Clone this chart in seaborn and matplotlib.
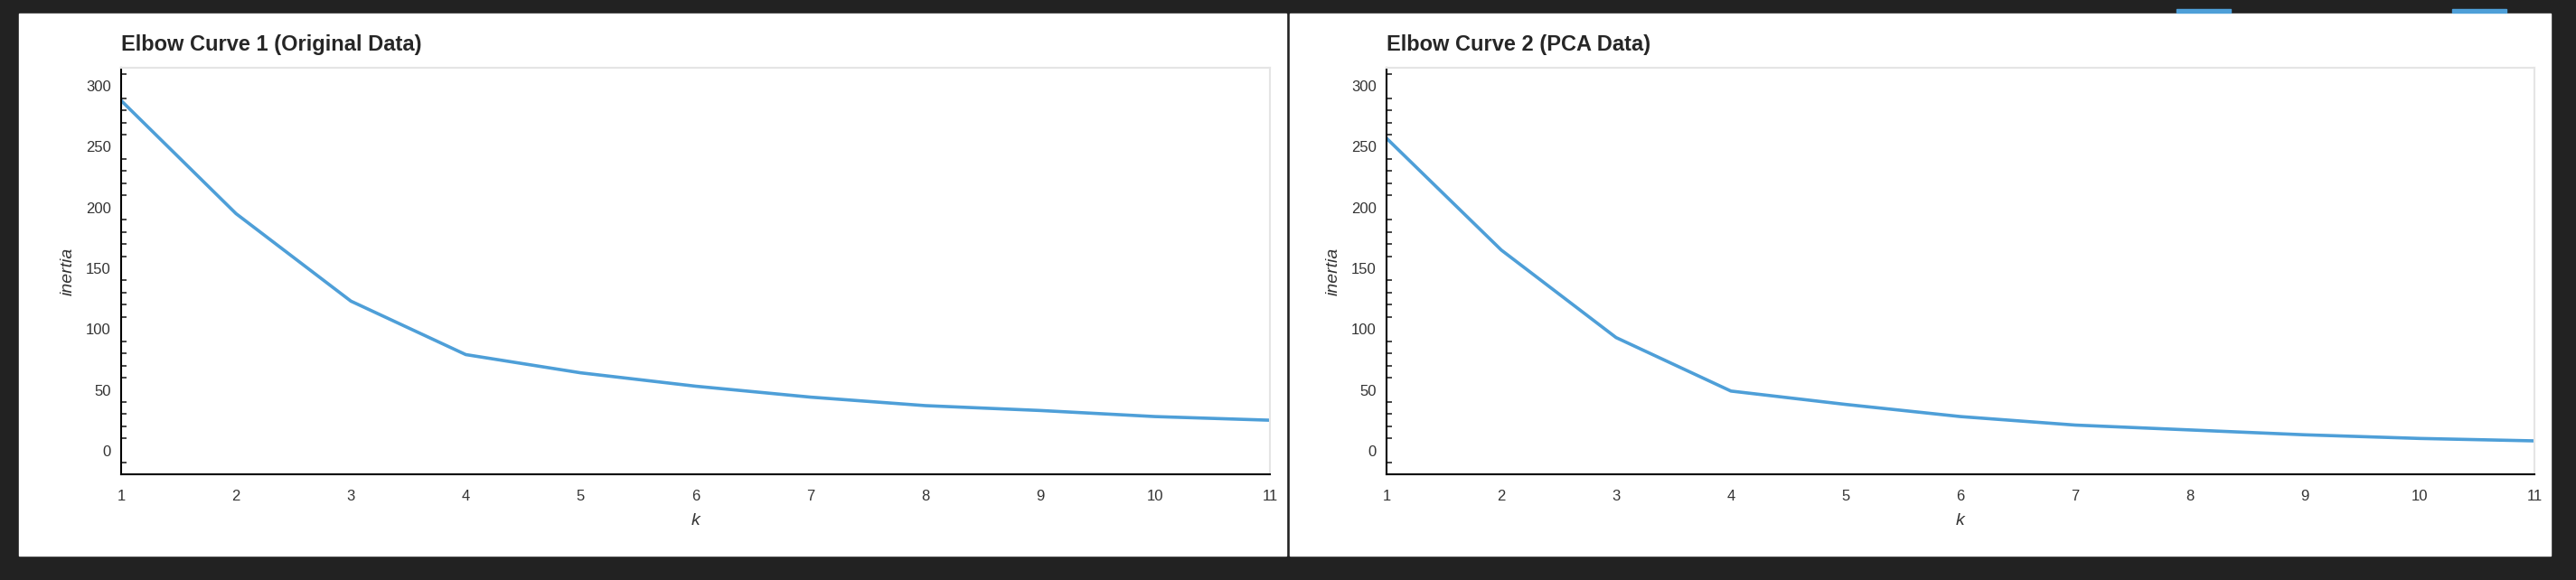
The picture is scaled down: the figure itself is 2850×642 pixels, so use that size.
import matplotlib.pyplot as plt
import matplotlib.patches as mpatches
from matplotlib.ticker import MultipleLocator
import pandas as pd
import seaborn as sns

k_values = [1, 2, 3, 4, 5, 6, 7, 8, 9, 10, 11]
inertia_original = [288, 195, 123, 79, 64, 53, 44, 37, 33, 28, 25]
inertia_pca = [257, 165, 93, 49, 38, 28, 21, 17, 13, 10, 8]
titles = ["Elbow Curve 1 (Original Data)", "Elbow Curve 2 (PCA Data)"]

sns.set_style("white")
plt.rcParams['font.family'] = ['Liberation Sans', 'DejaVu Sans']

W, H = 2850, 642
fig = plt.figure(figsize=(W / 100, H / 100), dpi=100, facecolor="#222222")

# white panels behind the two plots
for x0, x1 in [(21, 1423), (1427, 2822)]:
    fig.patches.append(mpatches.Rectangle((x0 / W, 1 - 615 / H), (x1 - x0) / W, 600 / H,
                                          transform=fig.transFigure, color="white", zorder=-5))
# cut-off legend stubs at the top
for x0 in [2408, 2713]:
    fig.patches.append(mpatches.Rectangle((x0 / W, 1 - 14 / H), 60 / W, 4 / H,
                                          transform=fig.transFigure, color="#4e9fd8", zorder=-4))

axes_px = [(134, 1405), (1534, 2804)]
for (ax0, ax1), vals, title in zip(axes_px, [inertia_original, inertia_pca], titles):
    ax = fig.add_axes([ax0 / W, 1 - 525 / H, (ax1 - ax0) / W, 450 / H])
    ax.set_zorder(5)
    df = pd.DataFrame({"k": k_values, "inertia": vals})
    sns.lineplot(data=df, x="k", y="inertia", ax=ax, color="#4e9fd8", linewidth=2.6)
    ax.set_xlim(1, 11)
    ax.set_ylim(-19.5, 315)
    ax.set_xticks(k_values)
    ax.yaxis.set_major_locator(MultipleLocator(50))
    ax.yaxis.set_minor_locator(MultipleLocator(10))
    ax.tick_params(axis="both", which="major", direction="inout", length=9, width=1.3,
                   labelsize=12, colors="black", labelcolor="#333333")
    ax.tick_params(axis="y", which="minor", direction="in", length=4, width=1.2, left=True)
    ax.tick_params(axis="x", pad=8)
    for s in ["left", "bottom"]:
        ax.spines[s].set_color("black")
        ax.spines[s].set_linewidth(1.5)
    for s in ["top", "right"]:
        ax.spines[s].set_color("#e5e5e5")
        ax.spines[s].set_linewidth(1.5)
    ax.set_xlabel("k", fontsize=14, style="italic", color="#333333", labelpad=8)
    ax.set_ylabel("inertia", fontsize=14, style="italic", color="#333333", labelpad=8)
    ax.set_title(title, fontsize=17, fontweight="bold", loc="left", pad=14)

fig.savefig("out.png", dpi=100, facecolor=fig.get_facecolor())
